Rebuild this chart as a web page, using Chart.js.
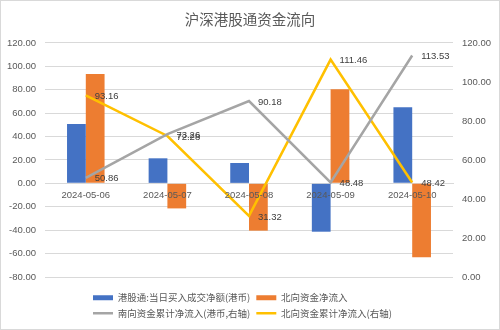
<!DOCTYPE html>
<html lang="zh">
<head>
<meta charset="UTF-8" />
<title>沪深港股通资金流向</title>
<script src="https://cdn.jsdelivr.net/npm/chart.js@4.4.0/dist/chart.umd.min.js"></script>
<style>
  body { margin: 0; background: #fff; }
  #wrap { width: 500px; height: 330px; box-sizing: border-box; border: 1px solid #d9d9d9; }
</style>
</head>
<body>
<div id="wrap"><canvas id="chart"></canvas></div>
<script>
  // ── data ────────────────────────────────────────────
  const dates     = ['2024-05-06', '2024-05-07', '2024-05-08', '2024-05-09', '2024-05-10'];
  const hkBuy     = [50.8, 21.4, 17.4, -41.3, 65.0];        // 港股通:当日买入成交净额(港币)
  const northFlow = [93.5, -21.4, -40.4, 80.3, -63.2];      // 北向资金净流入
  const southCum  = [50.86, 73.26, 90.18, 48.48, 113.53];   // 南向资金累计净流入 (右轴)
  const northCum  = [93.16, 72.28, 31.32, 111.46, 48.42];   // 北向资金累计净流入 (右轴)

  const TXT = '#595959';
  const GRID = '#d9d9d9';
  const numFont = { family: '"Liberation Sans", Arial, sans-serif', size: 9.5 };
  const cjk = '"Noto Sans CJK SC", sans-serif';

  // value labels on the two lines, right of each point
  const lineLabels = {
    id: 'lineLabels',
    afterDatasetsDraw(chart) {
      const ctx = chart.ctx;
      ctx.save();
      ctx.font = '9.5px "Liberation Sans", Arial, sans-serif';
      ctx.fillStyle = '#404040';
      ctx.textAlign = 'left';
      ctx.textBaseline = 'middle';
      chart.data.datasets.forEach((ds, i) => {
        if (ds.type !== 'line') return;
        chart.getDatasetMeta(i).data.forEach((pt, j) => {
          ctx.fillText(ds.data[j].toFixed(2), pt.x + 9, pt.y + 1);
        });
      });
      ctx.restore();
    }
  };

  // excel-style legend: rows left-aligned inside a centered block
  const legendBlock = {
    id: 'legendBlock',
    beforeDraw(chart) {
      const lg = chart.legend;
      lg.left = 86;
      lg.right = 86 + 370;
    }
  };

  const chart = new Chart(document.getElementById('chart'), {
    type: 'bar',
    data: {
      labels: dates,
      datasets: [
        { label: '港股通:当日买入成交净额(港币)', data: hkBuy, backgroundColor: '#4472C4',
          yAxisID: 'y', order: 2, pointStyle: 'rect' },
        { label: '北向资金净流入', data: northFlow, backgroundColor: '#ED7D31',
          yAxisID: 'y', order: 2, pointStyle: 'rect' },
        { type: 'line', label: '南向资金累计净流入(港币,右轴)', data: southCum,
          borderColor: '#A5A5A5', backgroundColor: '#A5A5A5', borderWidth: 2.5,
          pointRadius: 0, pointStyle: 'line', yAxisID: 'y1', order: 1 },
        { type: 'line', label: '北向资金累计净流入(右轴)', data: northCum,
          borderColor: '#FFC000', backgroundColor: '#FFC000', borderWidth: 2.5,
          pointRadius: 0, pointStyle: 'line', yAxisID: 'y1', order: 1 }
      ]
    },
    options: {
      responsive: true,
      maintainAspectRatio: false,
      animation: false,
      categoryPercentage: 0.46,
      barPercentage: 1,
      layout: { padding: { left: 0, right: 0, top: 0, bottom: 1 } },
      scales: {
        x: {
          position: { y: 0 },
          grid: { display: false, drawTicks: false },
          border: { display: true, color: GRID, width: 1 },
          ticks: { z: 1, color: TXT, font: numFont, padding: 6, maxRotation: 0 }
        },
        y: {
          position: 'left',
          min: -80, max: 120,
          grid: { color: GRID, drawTicks: false },
          border: { display: false },
          ticks: { stepSize: 20, color: TXT, font: numFont, padding: 9,
                   callback: v => v.toFixed(2) },
          afterFit: s => { s.width = 44; }
        },
        y1: {
          position: 'right',
          min: 0, max: 120,
          grid: { drawOnChartArea: false, drawTicks: false },
          border: { display: false },
          ticks: { stepSize: 20, color: TXT, font: numFont, padding: 9,
                   callback: v => v.toFixed(2) },
          afterFit: s => { s.width = 46; }
        }
      },
      plugins: {
        title: {
          display: true,
          text: '沪深港股通资金流向',
          color: TXT,
          font: { family: cjk, size: 14.5, weight: 'normal' },
          padding: { top: 10, bottom: 14.5 }
        },
        legend: {
          position: 'bottom',
          align: 'start',
          title: { display: true, text: '', font: { size: 5 }, padding: { top: 4, bottom: 0 } },
          labels: {
            usePointStyle: true,
            pointStyleWidth: 20,
            boxWidth: 20,
            boxHeight: 5,
            padding: 6,
            color: TXT,
            font: { family: cjk, size: 9.5 },
            sort: (a, b) => a.datasetIndex - b.datasetIndex
          }
        },
        tooltip: { enabled: false }
      }
    },
    plugins: [lineLabels, legendBlock]
  });
</script>
</body>
</html>
